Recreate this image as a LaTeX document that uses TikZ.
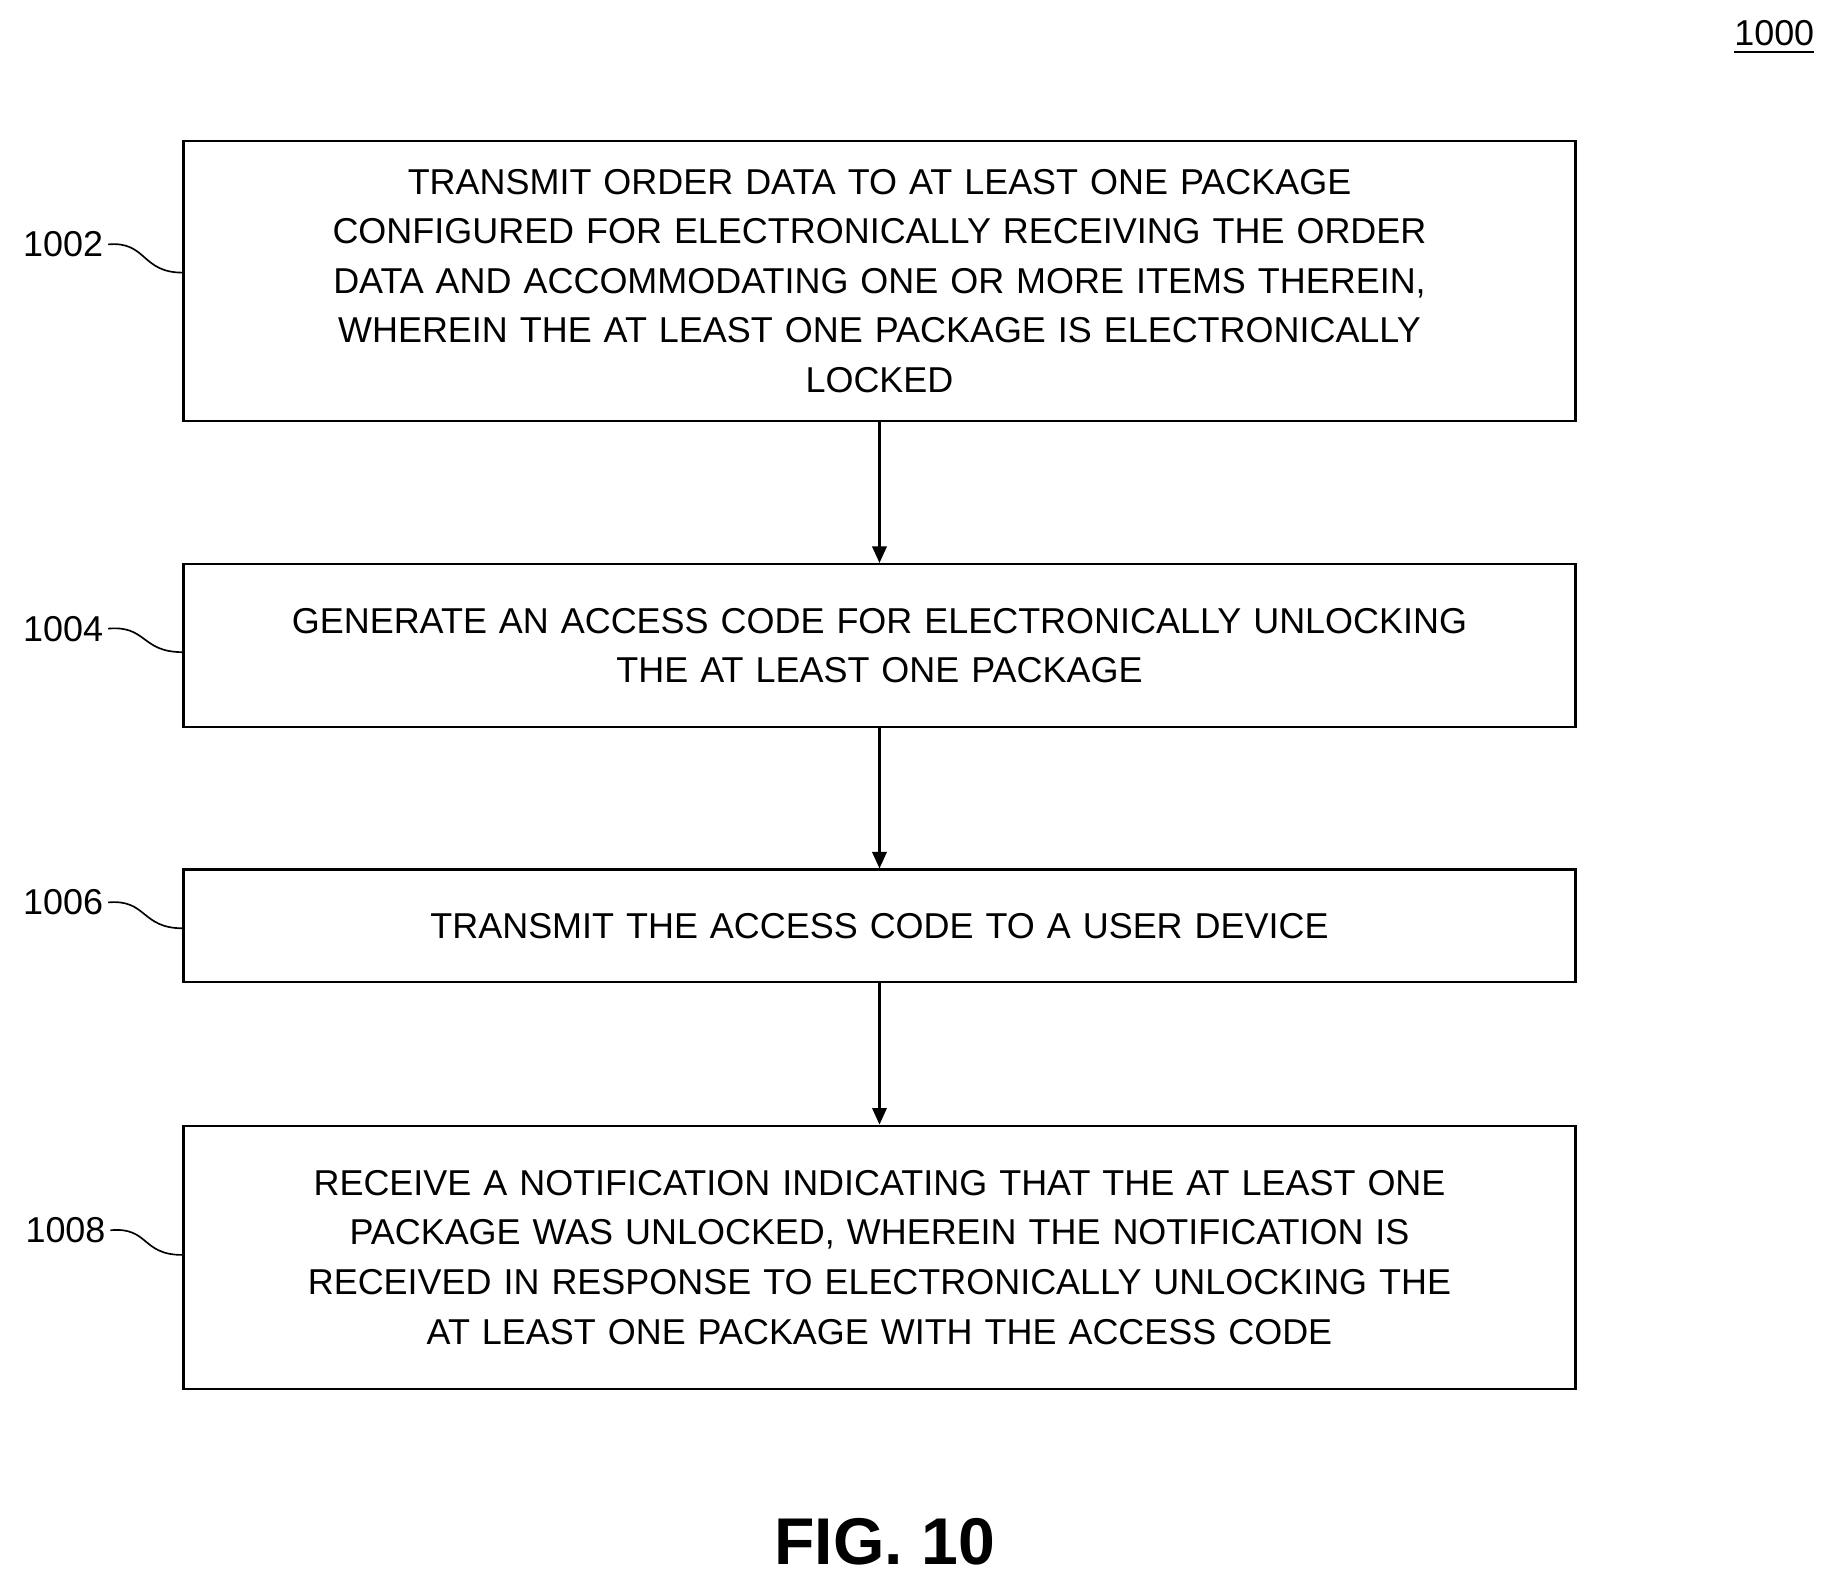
\documentclass[tikz,border=0pt]{standalone}
\usepackage{fontspec}
\setmainfont{Liberation Sans}
\usetikzlibrary{arrows.meta}
\tikzset{
  stepbox/.style={draw, line width=0.5pt, minimum width=11.84cm, text width=11.6cm,
    align=center, font=\fontsize{8.7}{12}\selectfont, inner sep=0pt},
  refnum/.style={font=\fontsize{8.7}{10}\selectfont, anchor=east, inner sep=1pt},
  flow/.style={-{Triangle[length=4pt,width=3.5pt]}, line width=0.5pt}
}
\begin{document}
\begin{tikzpicture}[x=0.01cm, y=-0.01cm]
    \useasboundingbox (0,0) rectangle (1560,1344);

        % Declare the steps
        \node[stepbox, minimum height=2.38cm] at (748.5, 239) (S1) {TRANSMIT ORDER DATA TO AT LEAST ONE PACKAGE\\ CONFIGURED FOR ELECTRONICALLY RECEIVING THE ORDER\\ DATA AND ACCOMMODATING ONE OR MORE ITEMS THEREIN,\\ WHEREIN THE AT LEAST ONE PACKAGE IS ELECTRONICALLY\\ LOCKED};
        \node[stepbox, minimum height=1.39cm] at (748.5, 549.5) (S2) {GENERATE AN ACCESS CODE FOR ELECTRONICALLY UNLOCKING\\ THE AT LEAST ONE PACKAGE};
        \node[stepbox, minimum height=0.96cm] at (748.5, 788) (S3) {TRANSMIT THE ACCESS CODE TO A USER DEVICE};
        \node[stepbox, minimum height=2.24cm] at (748.5, 1070) (S4) {RECEIVE A NOTIFICATION INDICATING THAT THE AT LEAST ONE\\ PACKAGE WAS UNLOCKED, WHEREIN THE NOTIFICATION IS\\ RECEIVED IN RESPONSE TO ELECTRONICALLY UNLOCKING THE\\ AT LEAST ONE PACKAGE WITH THE ACCESS CODE};

        % Declare the reference labels
        \node[refnum] at (92, 208) (L1) {1002};
        \node[refnum] at (92, 535) (L2) {1004};
        \node[refnum] at (92, 768) (L3) {1006};
        \node[refnum] at (94, 1047) (L4) {1008};
        \draw (L1.east) .. controls (125, 205) and (120, 232) .. (S1.west |- 0, 232);
        \draw (L2.east) .. controls (125, 532) and (120, 555) .. (S2.west |- 0, 555);
        \draw (L3.east) .. controls (125, 765) and (120, 790) .. (S3.west |- 0, 790);
        \draw (L4.east) .. controls (127, 1044) and (120, 1068) .. (S4.west |- 0, 1068);

        % Declare edges
        \draw[flow] (S1) -- (S2);
        \draw[flow] (S2) -- (S3);
        \draw[flow] (S3) -- (S4);

        % Declare titles
        \node[font=\fontsize{8.7}{10}\selectfont] at (1510, 32) (N) {\underline{1000}};
        \node[font=\bfseries\fontsize{16}{18}\selectfont] at (753, 1312) (F) {FIG. 10};

    \end{tikzpicture}
\end{document}
